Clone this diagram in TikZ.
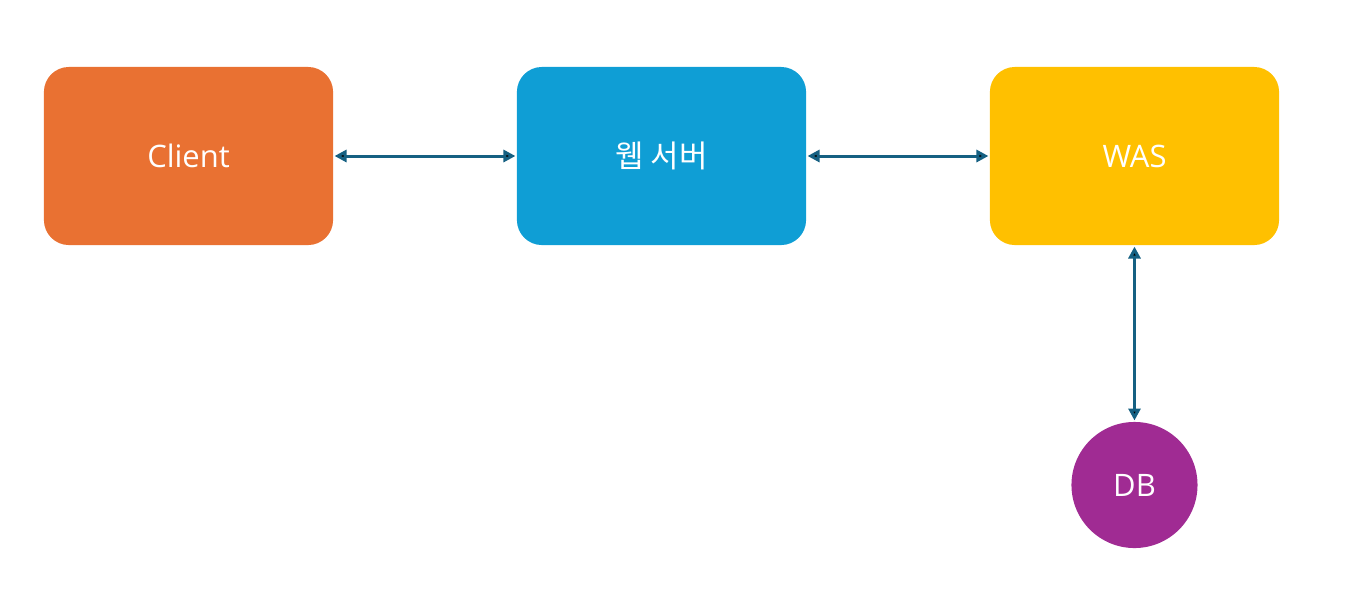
\documentclass[tikz,border=0pt]{standalone}
\usepackage{fontspec}
\setmainfont{Open Sans}
\newfontfamily\krfont{Noto Sans CJK KR}
\usetikzlibrary{arrows.meta}
\definecolor{node_orange}{RGB}{233,113,50}
\definecolor{node_blue}{RGB}{15,158,213}
\definecolor{node_yell}{RGB}{255,192,0}
\definecolor{node_purple}{RGB}{160,43,147}
\definecolor{edge_blue}{RGB}{21,96,130}

\begin{document}
\begin{tikzpicture}[x=0.01cm,y=-0.01cm,{Triangle[length=3.4pt,width=3.4pt]}-{Triangle[length=3.4pt,width=3.4pt]},line width=0.85pt]
    \tikzstyle{node}=[draw=none, rounded corners=0.25cm, minimum width=2.89cm, minimum height=1.78cm, text=white, font=\fontsize{8.8}{11}\selectfont]
    \tikzstyle{cl}=[style=node,fill=node_orange]
    \tikzstyle{ws}=[style=node,fill=node_blue]
    \tikzstyle{was}=[style=node,fill=node_yell]
    \tikzstyle{db}=[circle, draw=none, minimum size=1.26cm, inner sep=0pt, fill=node_purple, text=white, font=\fontsize{8.8}{11}\selectfont]

    \useasboundingbox (0,0) rectangle (1359,596);

    \node[cl]  (client) at (188.5,156) {Client};
    \node[ws]  (web)    at (661.5,156) {\krfont 웹 서버};
    \node[was] (was)    at (1134.5,156) {WAS};
    \node[db]  (db)     at (1134.5,485)  {DB};
    \path[draw=edge_blue]
     (client) edge[] (web)
     (web) edge[] (was)
     (was) edge[] (db)
     ;
\end{tikzpicture}
\end{document}
